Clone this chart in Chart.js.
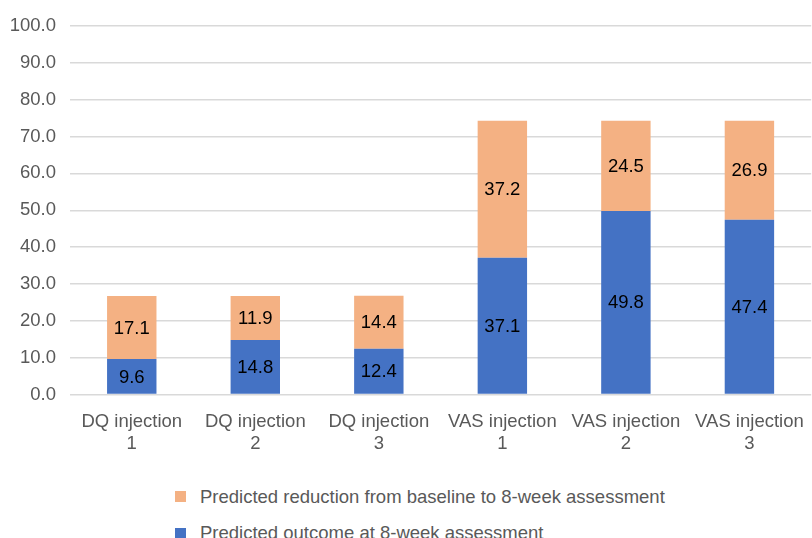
<!DOCTYPE html>
<html>
<head>
<meta charset="utf-8">
<script src="https://cdn.jsdelivr.net/npm/chart.js@4/dist/chart.umd.min.js"></script>
<style>
  html, body { margin:0; padding:0; width:812px; height:538px; overflow:hidden; background:#fff; }
  #wrap { position:relative; width:812px; height:538px; overflow:hidden; }
  canvas { position:absolute; left:0; top:0; }
  .leg { position:absolute; left:0; top:0; font-family:"Liberation Sans", Arial, sans-serif; font-size:18.5px; line-height:18.5px; color:#595959; white-space:nowrap; }
  .box { position:absolute; width:11px; height:11px; }
  .txt { position:absolute; }
</style>
</head>
<body>
<div id="wrap">
<canvas id="c" width="820" height="460"></canvas>
<div id="legend"></div>
</div>
<script>
const categories = [["DQ injection","1"],["DQ injection","2"],["DQ injection","3"],["VAS injection","1"],["VAS injection","2"],["VAS injection","3"]];
const outcomeValues = [9.6, 14.8, 12.4, 37.1, 49.8, 47.4];
const reductionValues = [17.1, 11.9, 14.4, 37.2, 24.5, 26.9];
const outcomeLabel = "Predicted outcome at 8-week assessment";
const reductionLabel = "Predicted reduction from baseline to 8-week assessment";
const yMin = 0, yMax = 100, yStep = 10;

const BLUE = "#4472C4", ORANGE = "#F4B183", TXT = "#595959";
const FONT = "'Liberation Sans', Arial, sans-serif";

const valueLabels = {
  id: "valueLabels",
  afterDatasetsDraw(chart) {
    const ctx = chart.ctx;
    ctx.save();
    ctx.font = "18.5px " + FONT;
    ctx.fillStyle = "#000";
    ctx.textAlign = "center";
    ctx.textBaseline = "middle";
    chart.data.datasets.forEach((ds, i) => {
      const meta = chart.getDatasetMeta(i);
      meta.data.forEach((el, j) => {
        const p = el.getProps(["x", "y", "base"], true);
        ctx.fillText(ds.data[j].toFixed(1), p.x, (p.y + p.base) / 2 + 1);
      });
    });
    ctx.restore();
  }
};

const chart = new Chart(document.getElementById("c"), {
  type: "bar",
  data: {
    labels: categories,
    datasets: [
      { label: outcomeLabel, data: outcomeValues, backgroundColor: BLUE, categoryPercentage: 1, barPercentage: 0.4 },
      { label: reductionLabel, data: reductionValues, backgroundColor: ORANGE, categoryPercentage: 1, barPercentage: 0.4 }
    ]
  },
  options: {
    responsive: false,
    animation: false,
    layout: { padding: { top: 26, right: 3, left: 0, bottom: 0 } },
    plugins: { legend: { display: false }, tooltip: { enabled: false } },
    scales: {
      x: {
        stacked: true,
        grid: { display: false, drawTicks: false },
        border: { display: false },
        ticks: { color: TXT, font: { family: FONT, size: 18.5 }, padding: 16, maxRotation: 0, autoSkip: false },
        afterFit(s) { s.height = 65.5; }
      },
      y: {
        stacked: true,
        min: yMin, max: yMax,
        grid: { color: "#D9D9D9", lineWidth: 1.5, drawTicks: false },
        border: { display: false },
        ticks: { stepSize: yStep, color: TXT, font: { family: FONT, size: 18.5 }, padding: 14,
                 callback: v => Number(v).toFixed(1) },
        afterFit(s) { s.width = 70; }
      }
    }
  },
  plugins: [valueLabels]
});

// HTML legend (reverse order: top series first)
const leg = document.getElementById("legend");
const items = [
  { label: reductionLabel, color: ORANGE, textTop: 487.6, boxTop: 491 },
  { label: outcomeLabel, color: BLUE, textTop: 523.6, boxTop: 527.5 }
];
items.forEach(it => {
  const d = document.createElement("div");
  d.className = "leg";
  const b = document.createElement("span");
  b.className = "box";
  b.style.left = "175px"; b.style.top = it.boxTop + "px"; b.style.background = it.color;
  const t = document.createElement("span");
  t.className = "txt";
  t.style.left = "200px"; t.style.top = it.textTop + "px";
  t.textContent = it.label;
  d.appendChild(b); d.appendChild(t);
  leg.appendChild(d);
});
</script>
</body>
</html>
